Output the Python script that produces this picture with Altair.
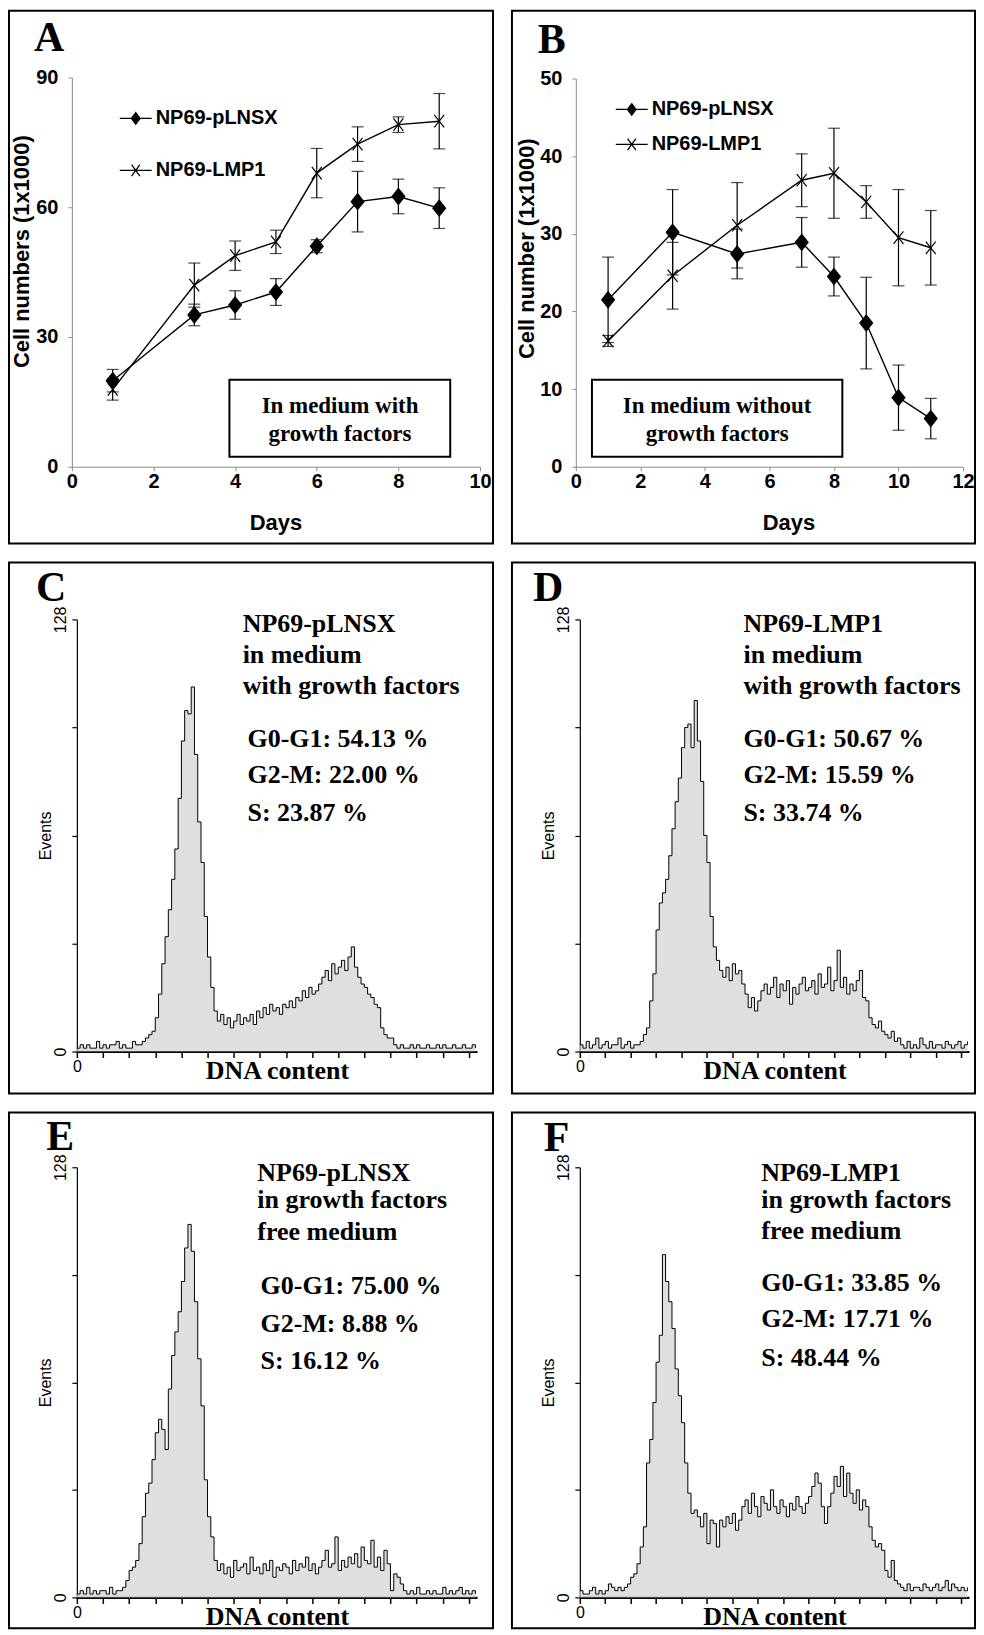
import altair as alt
import pandas as pd

SANS = "Liberation Sans"
SERIF = "Liberation Serif"
SERIES = ["NP69-pLNSX", "NP69-LMP1"]

# ---------------- Panel A (with growth factors) ----------------
A_DAYS = [1, 3, 4, 5, 6, 7, 8, 9]
A_PLNSX_MEAN = [19.9, 35.1, 37.4, 40.4, 51.0, 61.3, 62.5, 59.8]
A_PLNSX_ERR = [2.6, 2.5, 3.3, 3.1, 1.5, 7.0, 4.0, 4.7]
A_LMP1_MEAN = [17.9, 42.0, 48.8, 52.0, 67.9, 74.6, 79.1, 79.9]
A_LMP1_ERR = [2.5, 5.1, 3.4, 2.7, 5.7, 4.0, 1.8, 6.4]

# ---------------- Panel B (without growth factors) ----------------
B_DAYS = [1, 3, 5, 7, 8, 9, 10, 11]
B_PLNSX_MEAN = [21.5, 30.2, 27.4, 28.9, 24.5, 18.5, 8.9, 6.2]
B_PLNSX_ERR = [5.5, 5.5, 3.2, 3.2, 2.5, 5.9, 4.2, 2.6]
B_LMP1_MEAN = [16.2, 24.6, 31.1, 36.9, 37.8, 34.1, 29.5, 28.2]
B_LMP1_ERR = [0.7, 4.3, 5.5, 3.4, 5.8, 2.1, 6.2, 4.8]

# ---------------- DNA histograms (events per 8-channel bin) ----------------
BIN = 8
C_EVENTS = [1, 2, 1, 2, 1, 1, 3, 1, 2, 1, 2, 2, 3, 1, 2, 1, 1, 3, 2, 2, 3,
            4, 5, 6,
            10, 17, 26, 34, 42, 51, 60, 75, 92, 101, 100, 108, 88, 68, 56, 40, 28, 19, 12, 9,
            11, 8, 10, 7, 9, 11, 8, 10, 9, 11, 8, 12,
            10, 13, 11, 14, 12, 13, 11, 14, 13, 15, 13,
            16, 15, 18, 16, 19, 17, 18, 20,
            22, 24, 21, 26, 23, 25, 27, 24, 28, 31,
            25, 22, 20, 19, 17, 16, 14, 13,
            7, 5, 4, 4,
            2, 1, 2, 1, 1, 2, 1, 2, 1, 1, 2, 1, 1, 2, 1, 2, 1, 1, 2, 1, 1, 2, 1, 1, 2, 1]
D_EVENTS = [2, 1, 3, 1, 2, 4, 1, 2, 3, 1, 2, 2, 4, 1, 2, 3, 1, 2,
            2, 3, 5, 7,
            15, 23, 36, 44, 47, 51, 58, 66, 74, 81, 90, 96, 97, 90, 104, 92, 80, 64, 56, 40, 31, 27,
            24, 22, 25, 21, 26, 23, 24, 20,
            17, 13, 16, 12, 15,
            18, 20, 17, 19, 22, 16, 20, 18, 21, 14, 19, 17, 20, 22, 18, 19, 21, 17, 23, 19, 20, 25,
            18, 21, 30, 19, 22, 17, 20, 18, 21, 24,
            16, 15,
            10, 8, 7, 9, 6,
            5, 4, 6, 3, 4,
            2, 1, 3, 1, 2, 1, 4, 2, 1, 3, 1, 2, 2, 1, 3, 2, 1, 2, 3, 1, 2, 3]
E_EVENTS = [1, 2, 1, 3, 1, 2, 1, 2, 2, 1, 3, 1, 2, 2,
            3, 5, 8, 9, 11, 16, 24, 31, 34, 41, 49, 53, 50, 44, 62, 72, 79, 85, 94, 104, 111, 103,
            88, 71, 57, 35, 24, 18, 11,
            8, 10, 7, 9, 6, 11, 8, 9, 10, 7, 12, 8, 9, 7, 10, 8, 11, 6, 9, 8, 10, 9, 7, 11, 8, 10,
            9, 12, 8, 10, 7, 9, 11, 14, 9, 10, 18, 8, 11, 9, 12, 10, 13, 9, 15, 11, 10, 17, 9, 12, 8, 14,
            10, 2, 7, 6, 4,
            2, 1, 2, 1, 3, 1, 1, 2, 1, 2, 1, 1, 3, 1, 2, 1, 2, 3, 1, 2, 1, 2, 1]
F_EVENTS = [2, 1, 1, 2, 3, 1, 2, 1, 2, 4, 3, 2, 3, 2, 3, 4,
            6, 7, 10, 15, 21, 40, 47, 58, 70, 78, 102, 94, 88, 80, 68, 60, 52, 40, 31, 25,
            26, 24, 21, 25, 16, 23, 22, 15, 23, 21, 24, 22, 25, 20, 23,
            27, 29, 25, 31, 27, 24, 30, 28, 26, 32, 27, 25, 29, 27, 24, 28, 26, 30, 27, 25, 28, 30, 33,
            37, 34, 27, 22, 27,
            31, 36, 33, 39, 30, 37,
            31, 28, 32, 26, 29, 27,
            21, 17, 15, 16, 14,
            8, 6, 11, 5,
            4, 3, 2, 4, 2, 3, 3, 2, 4, 3, 2, 3, 4, 2, 3, 5, 2, 4, 3, 2, 3, 2, 3]

C_TEXT = ["NP69-pLNSX", "in medium", "with growth factors"]
C_PHASES = ["G0-G1: 54.13 %", "G2-M: 22.00 %", "S: 23.87 %"]
D_TEXT = ["NP69-LMP1", "in medium", "with growth factors"]
D_PHASES = ["G0-G1: 50.67 %", "G2-M: 15.59 %", "S: 33.74 %"]
E_TEXT = ["NP69-pLNSX", "in growth factors", "free medium"]
E_PHASES = ["G0-G1: 75.00 %", "G2-M: 8.88 %", "S: 16.12 %"]
F_TEXT = ["NP69-LMP1", "in growth factors", "free medium"]
F_PHASES = ["G0-G1: 33.85 %", "G2-M: 17.71 %", "S: 48.44 %"]

# marker paths
DIAMOND = "M0,-1L0.8,0L0,1L-0.8,0Z"
XMARK = "M-0.62,-0.78L0.62,0.78M-0.62,0.78L0.62,-0.78"
LEG_DIAMOND = ("M-1,0L1,0M0,-0.36L0.27,0L0,0.36L-0.27,0Z"
               "M0,-0.26L0.19,0L0,0.26L-0.19,0ZM0,-0.15L0.11,0L0,0.15L-0.11,0ZM0,-0.3L0,0.3")
LEG_X = "M-1,0L1,0M-0.26,-0.36L0.26,0.36M-0.26,0.36L0.26,-0.36"


def growth_df(days, mean, err, name):
    return pd.DataFrame({
        "day": days, "mean": mean,
        "lo": [m - e for m, e in zip(mean, err)],
        "hi": [m + e for m, e in zip(mean, err)],
        "series": name,
    })


def growth_panel(df, W, H, xdom, xr, xvals, ydom, yr, yvals, ytitle, ytitle_x, ytitle_y,
                 xtitle_x, letter, letter_xy, box, box_text, box_xy, leg_xy, leg_rowpad):
    xs = alt.Scale(domain=xdom, range=xr, nice=False, zero=False)
    ys = alt.Scale(domain=ydom, range=yr, nice=False, zero=False)
    common = dict(labelFont=SANS, labelFontSize=20, labelFontWeight="bold", labelColor="black",
                  titleFont=SANS, titleFontWeight="bold", titleColor="black", titleFontSize=22,
                  domainColor="#8c8c8c", domainWidth=1, tickColor="#8c8c8c", tickWidth=1,
                  tickSize=4, grid=False, labelOverlap=False)
    x_axis = alt.Axis(values=xvals, title="Days", offset=yr[0] - H, labelPadding=1,
                      titleY=56, titleX=xtitle_x, titleBaseline="middle",
                      labelFlush=False, **common)
    y_axis = alt.Axis(values=yvals, title=ytitle, offset=-xr[0], labelPadding=10,
                      titleX=ytitle_x, titleY=ytitle_y, titleAngle=270,
                      titleBaseline="middle", **common)

    def X(f):
        return alt.X(f, scale=xs, axis=x_axis)

    def Y(f):
        return alt.Y(f, scale=ys, axis=y_axis)

    base = alt.Chart(df)
    line = base.mark_line(color="black", strokeWidth=1.4).encode(
        x=X("day:Q"), y=Y("mean:Q"), detail="series:N")
    rule = base.mark_rule(color="black", strokeWidth=1.2).encode(
        x=X("day:Q"), y=Y("lo:Q"), y2="hi:Q")
    cap_lo = base.mark_tick(orient="horizontal", size=12, thickness=1.2, color="black").encode(
        x=X("day:Q"), y=Y("lo:Q"))
    cap_hi = base.mark_tick(orient="horizontal", size=12, thickness=1.2, color="black").encode(
        x=X("day:Q"), y=Y("hi:Q"))
    pts = base.mark_point(filled=True, color="black", stroke="black", strokeWidth=1.2,
                          size=256, opacity=1).encode(
        x=X("day:Q"), y=Y("mean:Q"),
        shape=alt.Shape("series:N", scale=alt.Scale(domain=SERIES, range=[DIAMOND, XMARK]),
                        legend=None))
    leg = base.mark_point(filled=False, color="black", strokeWidth=1.3, opacity=0).encode(
        x=X("day:Q"), y=Y("mean:Q"),
        shape=alt.Shape("series:N", scale=alt.Scale(domain=SERIES, range=[LEG_DIAMOND, LEG_X]),
                        legend=alt.Legend(orient="none", legendX=leg_xy[0], legendY=leg_xy[1],
                                          title=None, symbolSize=1024, symbolOpacity=1,
                                          symbolStrokeWidth=1.3, symbolStrokeColor="black",
                                          labelFont=SANS,
                                          labelFontSize=20, labelFontWeight="bold",
                                          labelColor="black", labelOffset=3, rowPadding=leg_rowpad,
                                          padding=0, labelLimit=400)))
    box_df = pd.DataFrame({"x1": [box[0]], "x2": [box[1]], "y1": [box[2]], "y2": [box[3]]})
    rect = alt.Chart(box_df).mark_rect(fill="white", stroke="black", strokeWidth=2).encode(
        x=X("x1:Q"), x2="x2:Q", y=Y("y1:Q"), y2="y2:Q")
    bt_df = pd.DataFrame({"x": [box_xy[0]], "y": [box_xy[1]], "t": [box_text]})
    btext = alt.Chart(bt_df).mark_text(font=SERIF, fontSize=23, fontWeight="bold", color="black",
                                       align="center", baseline="middle", lineBreak="\n",
                                       lineHeight=28).encode(
        x=X("x:Q"), y=Y("y:Q"), text="t:N")
    lt_df = pd.DataFrame({"x": [letter_xy[0]], "y": [letter_xy[1]], "t": [letter]})
    ltext = alt.Chart(lt_df).mark_text(font=SERIF, fontSize=42, fontWeight="bold", color="black",
                                       align="left", baseline="alphabetic").encode(
        x=X("x:Q"), y=Y("y:Q"), text="t:N")
    return alt.layer(line, rule, cap_lo, cap_hi, pts, leg, rect, btext, ltext).resolve_scale(
        shape="independent").properties(width=W, height=H)


def hist_panel(values, W, H, xr, yr, letter, letter_xy, text, phases, text_x, phase_x, ys_list):
    df = pd.DataFrame({"ch": [i * BIN for i in range(len(values))], "events": values})
    xs = alt.Scale(domain=[0, 980], range=xr, nice=False, zero=False)
    ys = alt.Scale(domain=[0, 128], range=yr, nice=False, zero=False)
    x_axis = alt.Axis(values=list(range(0, 961, 64)), labelExpr="datum.value == 0 ? '0' : ''",
                      offset=yr[0] - H, domainColor="black", domainWidth=2.2, tickColor="black",
                      tickWidth=1.5, tickSize=6, labelFont=SANS, labelFontSize=16,
                      labelColor="black", labelPadding=1, labelOverlap=False, labelFlush=False,
                      title="DNA content", titleFont=SERIF, titleFontSize=26,
                      titleFontWeight="bold", titleColor="black", titleY=27,
                      titleBaseline="alphabetic", grid=False)
    y_axis = alt.Axis(values=[0, 32, 64, 96, 128],
                      labelExpr="(datum.value == 0 || datum.value == 128) ? datum.label : ''",
                      offset=-xr[0], domainColor="black", domainWidth=1.2, tickColor="black",
                      tickWidth=1.2, tickSize=5, labelFont=SANS, labelFontSize=16,
                      labelColor="black", labelAngle=270, labelAlign="center",
                      labelBaseline="bottom", labelPadding=3, labelOverlap=False,
                      title="Events", titleFont=SANS, titleFontSize=16, titleFontWeight="normal",
                      titleColor="black", titleAngle=270, titleX=-31, titleBaseline="middle",
                      grid=False)

    def X(f):
        return alt.X(f, scale=xs, axis=x_axis)

    def Y(f):
        return alt.Y(f, scale=ys, axis=y_axis)

    area = alt.Chart(df).mark_area(interpolate="step-after", color="#d2d2d2",
                                   line={"color": "black", "strokeWidth": 1}).encode(
        x=X("ch:Q"), y=Y("events:Q"))
    ann = pd.DataFrame({
        "x": [text_x] * 3 + [phase_x] * 3,
        "y": ys_list,
        "t": text + phases,
    })
    atext = alt.Chart(ann).mark_text(font=SERIF, fontSize=26, fontWeight="bold", color="black",
                                     align="left", baseline="middle").encode(
        x=X("x:Q"), y=Y("y:Q"), text="t:N")
    lt_df = pd.DataFrame({"x": [letter_xy[0]], "y": [letter_xy[1]], "t": [letter]})
    ltext = alt.Chart(lt_df).mark_text(font=SERIF, fontSize=42, fontWeight="bold", color="black",
                                       align="left", baseline="alphabetic").encode(
        x=X("x:Q"), y=Y("y:Q"), text="t:N")
    return alt.layer(area, atext, ltext).properties(width=W, height=H)


dfA = pd.concat([growth_df(A_DAYS, A_PLNSX_MEAN, A_PLNSX_ERR, SERIES[0]),
                 growth_df(A_DAYS, A_LMP1_MEAN, A_LMP1_ERR, SERIES[1])])
dfB = pd.concat([growth_df(B_DAYS, B_PLNSX_MEAN, B_PLNSX_ERR, SERIES[0]),
                 growth_df(B_DAYS, B_LMP1_MEAN, B_LMP1_ERR, SERIES[1])])

WL, WR = 485, 464
H1, H2, H3 = 534, 532, 517

A = growth_panel(dfA, WL, H1, [0, 10], [63, 472], [0, 2, 4, 6, 8, 10], [0, 90], [457, 67],
                 [0, 30, 60, 90], "Cell numbers (1x1000)", -50, 241, 267,
                 "A", (-0.93, 96.2), (3.86, 9.27, 20.1, 2.3), "In medium with\ngrowth factors",
                 (6.57, 14.1), (110, 91), 25)
B = growth_panel(dfB, WR, H1, [0, 12], [64, 452], [0, 2, 4, 6, 8, 10, 12], [0, 50], [457, 68],
                 [0, 10, 20, 30, 40, 50], "Cell number (1x1000)", -49, 238, 277,
                 "B", (-1.18, 53.3), (0.5, 8.26, 11.2, 1.3), "In medium without\ngrowth factors",
                 (4.38, 7.84), (103, 82), 8)

C = hist_panel(C_EVENTS, WL, H2, [68, 469], [490, 57], "C", (-100, 133.6), C_TEXT, C_PHASES,
               406, 418, [126.5, 117.6, 108.2, 92.5, 81.9, 70.6])
D = hist_panel(D_EVENTS, WR, H2, [68, 458], [490, 57], "D", (-118, 133.6), D_TEXT, D_PHASES,
               412, 412, [126.5, 117.6, 108.2, 92.5, 81.9, 70.6])
E = hist_panel(E_EVENTS, WL, H3, [68, 469], [486, 55], "E", (-75, 133), E_TEXT, E_PHASES,
               442, 450, [126.2, 118.2, 108.7, 92.7, 81.4, 70.4])
F = hist_panel(F_EVENTS, WR, H3, [68, 458], [486, 55], "F", (-91, 132.8), F_TEXT, F_PHASES,
               457, 457, [126.2, 118.2, 109.0, 93.6, 82.9, 71.3])

chart = alt.vconcat(
    alt.hconcat(A, B, spacing=17),
    alt.hconcat(C, D, spacing=17),
    alt.hconcat(E, F, spacing=17),
    spacing=17,
).configure_view(stroke="black", strokeWidth=2).configure_axis(
    labelFontSize=16, titleFontSize=16, labelFont=SANS, titleFont=SANS
).properties(padding=0, background="white")

chart.save("out.html", embed_options={"renderer": "svg", "actions": False})
